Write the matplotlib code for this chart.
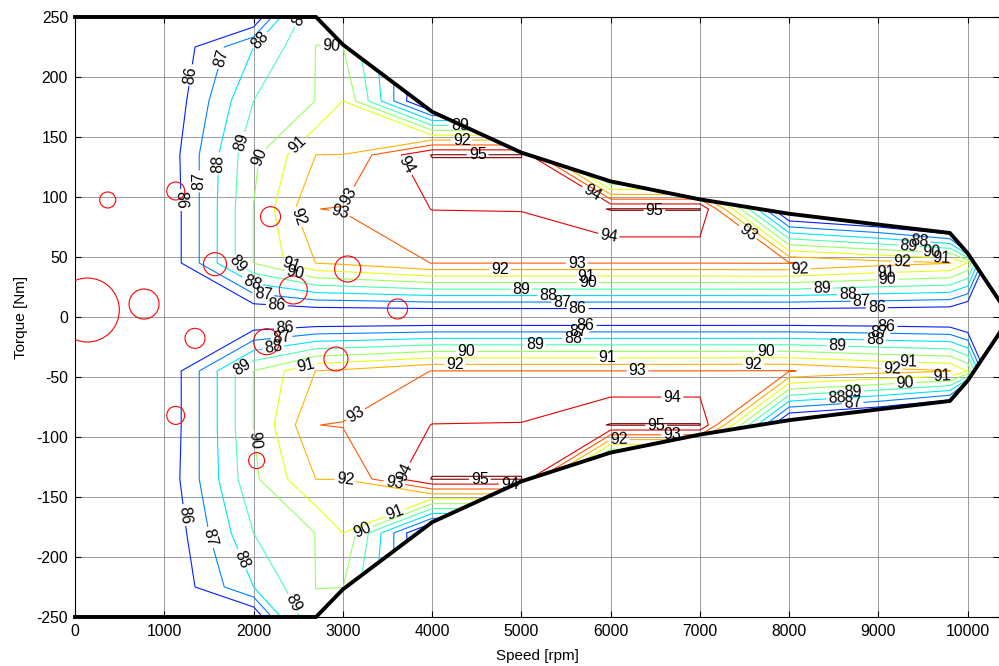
import numpy as np
import matplotlib
matplotlib.use("Agg")
import matplotlib.pyplot as plt
from matplotlib.patches import Polygon
from matplotlib.colors import Normalize

plt.rcParams['font.family'] = ['Liberation Sans', 'DejaVu Sans']
plt.rcParams['axes.unicode_minus'] = False

# efficiency table [%] for positive torque, mirrored for the generating side
speed = [0, 2000, 2700, 3000, 4000, 5000, 6000, 7000, 8000, 9000, 9800, 10000, 10500]
torque_rows = [0, 45, 90, 135, 180, 225, 270]
eff_t0 = [80.0, 84.7, 84.7, 84.7, 84.7, 84.7, 84.7, 84.7, 84.7, 84.7, 84.6, 84.0, 78.0]
eff_t45 = [80.1, 90.02, 92.02, 92.2, 93.02, 93.02, 93.02, 93.02, 93.05, 92.4, 92.05, 90.98, 78.0]
eff_t90 = [80.1, 90.02, 92.99, 93.05, 94.02, 94.05, 95.05, 95.05, 84.0, 82.8, 80.8, 72.0, 65.0]
eff_t135 = [80.6, 89.8, 92.01, 92.01, 95.05, 95.05, 83.8, 83.8, 80.0, 78.0, 76.0, 70.0, 60.0]
eff_t180 = [81.0, 89.0, 90.02, 91.0, 84.0, 84.0, 80.0, 78.0, 76.0, 74.0, 72.0, 68.0, 60.0]
eff_t225 = [81.9, 88.0, 90.02, 90.02, 84.7, 83.0, 80.0, 78.0, 76.0, 74.0, 72.0, 68.0, 60.0]
eff_t270 = [80.0, 82.6, 89.44, 88.0, 84.0, 82.0, 80.0, 78.0, 76.0, 74.0, 72.0, 68.0, 60.0]

levels = [86, 87, 88, 89, 90, 91, 92, 93, 94, 95]

# max torque envelope (motoring side)
env_speed = [0, 2700, 3000, 4000, 5000, 6000, 7000, 8000, 9000, 9800, 10000, 10475]
env_torque = [250, 250, 227, 171, 137, 113, 98, 86, 77, 70, 53, 0]

# operating points: speed, torque, marker radius [px]
op_speed = [366, 1128, 2190, 1568, 2445, 3053, 3613, 138, 773, 1344, 2146, 2923, 1128, 2034]
op_torque = [97.5, 105, 83.6, 44, 22.5, 40, 6.7, 5.8, 10.8, -17.8, -20.6, -35, -82, -119.7]
op_radius = [8, 9, 10, 11.5, 14, 13, 10, 32, 15, 10, 13, 12, 9, 8]

# contour label positions per level
label_pos = {
    86: [(1195, 97.5), (1265, 202), (2260, 10), (5630, 7.5), (8980, 7.5),
         (2350, -7.5), (5720, -6.7), (9090, -7.5), (1225, -165)],
    87: [(1624, 216), (1392, 113), (2110, 20), (5460, 12.5), (8810, 14),
         (2310, -15), (5640, -12), (9010, -13), (1510, -184), (8710, -73)],
    88: [(2094, 229), (1587, 128), (2000, 31), (5300, 17.5), (8660, 18), (9470, 69),
         (2220, -24.7), (5580, -17.5), (8960, -19), (1850, -202.5), (8540, -69)],
    89: [(2630, 246), (1848, 146), (1830, 45), (5000, 22.5), (8365, 24), (9340, 62.5),
         (4310, 157), (1880, -43.6), (5150, -23), (8540, -25), (8710, -61), (2510, -236)],
    90: [(2870, 224), (2008, 134), (2460, 35), (5745, 28), (9100, 32.5), (9600, 57.5),
         (4385, -29), (7740, -28), (9300, -55), (2010, -102.5), (3220, -177.5)],
    91: [(2490, 144), (2425, 45), (5730, 34), (9080, 39), (9710, 51),
         (5960, -33), (2590, -41), (9330, -40), (9710, -50), (3580, -162)],
    92: [(2520, 84), (4330, 147), (4760, 39), (8120, 41), (9270, 45),
         (4255, -39), (7600, -39), (9150, -44), (6090, -102.5), (3025, -136)],
    93: [(3080, 100), (2970, 88), (5620, 45), (7540, 71),
         (6300, -44), (6690, -97), (3150, -82), (3580, -137)],
    94: [(3730, 127), (5790, 104), (5980, 68), (6690, -67.5), (3710, -130), (4870, -139)],
    95: [(4510, 134), (6490, 89), (6510, -90), (4535, -134)],
}

upper = [eff_t0, eff_t45, eff_t90, eff_t135, eff_t180, eff_t225, eff_t270]
torque = np.array([-t for t in torque_rows[:0:-1]] + torque_rows)
eff = np.array(upper[:0:-1] + upper)
S, T = np.meshgrid(speed, torque)

fig = plt.figure(figsize=(9.99, 6.66), dpi=100)
ax = fig.add_axes([0.0751, 0.0736, 0.9249, 0.9009])
ax.set_xlim(0, 10350)
ax.set_ylim(-250, 250)

ax.set_xticks(np.arange(0, 10001, 1000))
ax.set_yticks(np.arange(-250, 251, 50))
ax.grid(True, color='0.55', linewidth=0.6, zorder=0)
ax.set_axisbelow(True)

norm = Normalize(84.3, 95)
cs = ax.contour(S, T, eff, levels=levels, cmap='jet', norm=norm, linewidths=0.8, zorder=2)

env_x = env_speed + env_speed[-2::-1]
env_y = env_torque + [-t for t in env_torque[-2::-1]]
clip = Polygon(np.column_stack([env_x, env_y]), closed=True, transform=ax.transData,
               facecolor='none', edgecolor='none')
ax.add_patch(clip)
cs.set_clip_path(clip)


def snap_to_level(lev, x, y):
    """Closest point (in display space) on the contour line of one level."""
    path = cs.get_paths()[levels.index(lev)]
    p = ax.transData.transform((x, y))
    best, best_d = (x, y), np.inf
    for poly in path.to_polygons(closed_only=False):
        if len(poly) < 2:
            continue
        d = ax.transData.transform(poly)
        a, b = d[:-1], d[1:]
        ab = b - a
        ll = (ab ** 2).sum(1)
        ll[ll == 0] = 1e-12
        t = np.clip(((p - a) * ab).sum(1) / ll, 0, 1)
        q = a + ab * t[:, None]
        dist = ((q - p) ** 2).sum(1)
        i = dist.argmin()
        if dist[i] < best_d:
            best_d = dist[i]
            best = ax.transData.inverted().transform(q[i])
    return tuple(best)


for lev, pos in label_pos.items():
    for x, y in pos:
        ax.clabel(cs, manual=[snap_to_level(lev, x, y)], inline=True, inline_spacing=2,
                  fmt='%d', colors='k', fontsize=11.5)

diam_pt = 2 * np.array(op_radius) * 72 / 100
ax.scatter(op_speed, op_torque, s=diam_pt ** 2, facecolors='none', edgecolors='red',
           linewidths=0.8, zorder=3)

ax.plot(env_x, env_y, color='black', linewidth=2.8, zorder=4, clip_on=False)

ax.set_xlim(0, 10350)
ax.set_ylim(-250, 250)
ax.tick_params(direction='in', length=4, top=True, right=True, labelsize=11.3, pad=5)
ax.set_xlabel('Speed [rpm]', fontsize=11, labelpad=7)
ax.set_ylabel('Torque [Nm]', fontsize=11, labelpad=6)

fig.savefig('out.png', dpi=100)
